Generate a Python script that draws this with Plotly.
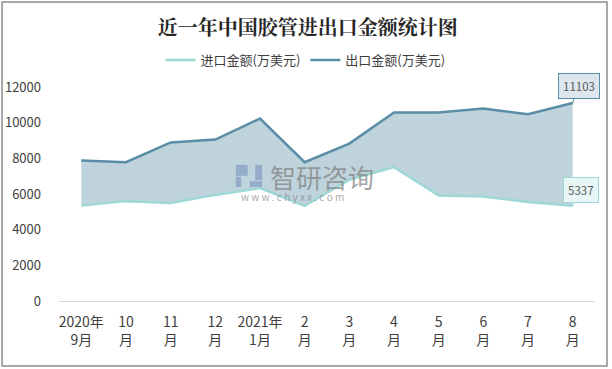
import plotly.graph_objects as go

months = ["2020年<br>9月", "10<br>月", "11<br>月", "12<br>月", "2021年<br>1月", "2<br>月",
          "3<br>月", "4<br>月", "5<br>月", "6<br>月", "7<br>月", "8<br>月"]
import_vals = [5360, 5600, 5490, 5950, 6330, 5330, 6800, 7510, 5920, 5860, 5550, 5337]
export_vals = [7880, 7780, 8890, 9050, 10230, 7780, 8830, 10570, 10570, 10790, 10470, 11103]
y_ticks = [0, 2000, 4000, 6000, 8000, 10000, 12000]

x = list(range(len(months)))
imp_color = "#9ED8D6"
exp_color = "#5A8EA6"
fill_color = "#BFD3DC"
font_family = "Noto Sans CJK SC, Microsoft YaHei, sans-serif"

fig = go.Figure()
# fill band between the two series
fig.add_trace(go.Scatter(x=x, y=import_vals, mode="lines", line=dict(width=0),
                         showlegend=False, hoverinfo="skip"))
fig.add_trace(go.Scatter(x=x, y=export_vals, mode="lines", fill="tonexty", fillcolor=fill_color,
                         line=dict(width=0), showlegend=False, hoverinfo="skip"))
# lines
fig.add_trace(go.Scatter(x=x, y=import_vals, mode="lines", line=dict(color=imp_color, width=2.5),
                         name="进口金额(万美元)"))
fig.add_trace(go.Scatter(x=x, y=export_vals, mode="lines", line=dict(color=exp_color, width=2.5),
                         name="出口金额(万美元)"))

# callouts
fig.add_annotation(x=x[-1], y=export_vals[-1], text=str(export_vals[-1]), showarrow=True,
                   arrowhead=0, arrowwidth=1, arrowcolor=exp_color, ax=6, ay=-17,
                   bordercolor=exp_color, borderwidth=1, bgcolor="#DCE6EC", borderpad=4,
                   font=dict(size=11.5, color="#595959", family=font_family))
fig.add_annotation(x=x[-1], y=import_vals[-1], text=str(import_vals[-1]), showarrow=True,
                   arrowhead=0, arrowwidth=1, arrowcolor=imp_color, ax=8, ay=-16,
                   bordercolor=imp_color, borderwidth=1, bgcolor="#E8F6F6", borderpad=4,
                   font=dict(size=11.5, color="#595959", family=font_family))

# watermark
fig.add_annotation(xref="paper", yref="paper", x=0.491, y=0.584, text="智研咨询", showarrow=False,
                   font=dict(size=26, color="rgba(125,125,125,0.7)", family=font_family))
fig.add_annotation(xref="paper", yref="paper", x=0.4356, y=0.486, text="w w w . c h y x x . c o m",
                   showarrow=False, font=dict(size=10, color="rgba(130,130,130,0.7)", family=font_family))
logo = "rgba(125,150,190,0.65)"
fig.add_shape(type="rect", xref="paper", yref="paper", x0=0.330, x1=0.352, y0=0.585, y1=0.636,
              line=dict(width=0), fillcolor=logo, layer="above")
fig.add_shape(type="rect", xref="paper", yref="paper", x0=0.330, x1=0.340, y0=0.533, y1=0.580,
              line=dict(width=0), fillcolor=logo, layer="above")
fig.add_shape(type="rect", xref="paper", yref="paper", x0=0.356, x1=0.379, y0=0.533, y1=0.560,
              line=dict(width=0), fillcolor=logo, layer="above")
fig.add_shape(type="rect", xref="paper", yref="paper", x0=0.366, x1=0.379, y0=0.565, y1=0.636,
              line=dict(width=0), fillcolor=logo, layer="above")

# outer border
fig.add_shape(type="rect", xref="paper", yref="paper", x0=-0.1063, x1=1.0224, y0=-0.3037, y1=1.397,
              line=dict(color="#8C8C8C", width=1.5), layer="above")

fig.update_layout(
    width=612, height=369,
    margin=dict(l=59, r=17, t=87, b=68, autoexpand=False),
    paper_bgcolor="white", plot_bgcolor="white",
    title=dict(text="<b>近一年中国胶管进出口金额统计图</b>", x=0.503, xanchor="center",
               y=0.925, yanchor="middle",
               font=dict(size=20, color="#262626", family="Noto Serif CJK SC, Noto Sans CJK SC, serif")),
    legend=dict(orientation="h", x=0.46, xanchor="center", y=1.126, yanchor="middle",
                traceorder="normal",
                font=dict(size=13, color="#404040", family=font_family),
                itemwidth=30, bgcolor="rgba(0,0,0,0)"),
    font=dict(family=font_family),
    showlegend=True,
)
fig.update_xaxes(tickmode="array", tickvals=x, ticktext=months, range=[-0.5, 11.5],
                 showgrid=False, zeroline=False, showline=False, ticks="", automargin=False,
                 ticklabelstandoff=11,
                 tickfont=dict(size=14, color="#404040", family=font_family))
fig.update_yaxes(range=[0, 12000], tickvals=y_ticks, tickformat="d", showgrid=False, zeroline=True,
                 zerolinecolor="#D9D9D9", zerolinewidth=1, showline=False, ticks="", automargin=False,
                 ticklabelstandoff=17,
                 tickfont=dict(size=13, color="#404040", family=font_family))

fig.write_html("out.html", config={"displayModeBar": False},
               post_script="document.body.style.margin='0';")
